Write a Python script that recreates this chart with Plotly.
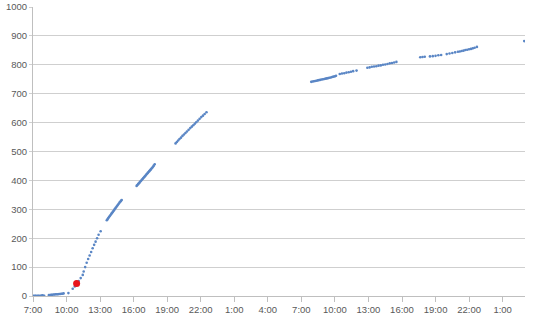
import plotly.graph_objects as go

times = [
    "2020-01-01 07:00", "2020-01-01 07:05", "2020-01-01 07:10", "2020-01-01 07:15", "2020-01-01 07:20",
    "2020-01-01 07:25", "2020-01-01 07:30", "2020-01-01 07:35", "2020-01-01 07:40", "2020-01-01 07:45",
    "2020-01-01 07:50", "2020-01-01 07:55", "2020-01-01 08:00",
    "2020-01-01 08:25", "2020-01-01 08:31", "2020-01-01 08:37", "2020-01-01 08:43", "2020-01-01 08:50",
    "2020-01-01 08:56", "2020-01-01 09:02", "2020-01-01 09:08", "2020-01-01 09:14", "2020-01-01 09:20",
    "2020-01-01 09:26", "2020-01-01 09:32", "2020-01-01 09:38", "2020-01-01 09:44",
    "2020-01-01 10:10", "2020-01-01 10:33", "2020-01-01 10:44",
    "2020-01-01 11:05", "2020-01-01 11:16", "2020-01-01 11:27", "2020-01-01 11:32", "2020-01-01 11:40",
    "2020-01-01 11:48", "2020-01-01 11:56", "2020-01-01 12:04", "2020-01-01 12:12", "2020-01-01 12:20",
    "2020-01-01 12:28", "2020-01-01 12:36", "2020-01-01 12:44", "2020-01-01 12:52", "2020-01-01 13:03",
    "2020-01-01 13:36", "2020-01-01 13:40", "2020-01-01 13:44", "2020-01-01 13:48", "2020-01-01 13:52",
    "2020-01-01 13:56", "2020-01-01 14:00", "2020-01-01 14:04", "2020-01-01 14:08", "2020-01-01 14:12",
    "2020-01-01 14:16", "2020-01-01 14:20", "2020-01-01 14:24", "2020-01-01 14:28", "2020-01-01 14:32",
    "2020-01-01 14:36", "2020-01-01 14:40", "2020-01-01 14:44", "2020-01-01 14:48", "2020-01-01 14:52",
    "2020-01-01 14:56",
    "2020-01-01 16:16", "2020-01-01 16:20", "2020-01-01 16:24", "2020-01-01 16:28", "2020-01-01 16:32",
    "2020-01-01 16:36", "2020-01-01 16:40", "2020-01-01 16:44", "2020-01-01 16:48", "2020-01-01 16:52",
    "2020-01-01 16:56", "2020-01-01 17:00", "2020-01-01 17:04", "2020-01-01 17:08", "2020-01-01 17:12",
    "2020-01-01 17:16", "2020-01-01 17:20", "2020-01-01 17:24", "2020-01-01 17:28", "2020-01-01 17:32",
    "2020-01-01 17:36", "2020-01-01 17:40", "2020-01-01 17:44", "2020-01-01 17:48", "2020-01-01 17:53",
    "2020-01-01 19:45", "2020-01-01 19:52", "2020-01-01 19:59", "2020-01-01 20:06", "2020-01-01 20:14",
    "2020-01-01 20:22", "2020-01-01 20:30", "2020-01-01 20:38", "2020-01-01 20:46", "2020-01-01 20:55",
    "2020-01-01 21:04", "2020-01-01 21:12", "2020-01-01 21:20", "2020-01-01 21:28", "2020-01-01 21:36",
    "2020-01-01 21:45", "2020-01-01 21:54", "2020-01-01 22:03", "2020-01-01 22:12", "2020-01-01 22:21",
    "2020-01-01 22:31",
    "2020-01-02 07:53", "2020-01-02 08:00", "2020-01-02 08:07", "2020-01-02 08:14", "2020-01-02 08:21",
    "2020-01-02 08:28", "2020-01-02 08:35", "2020-01-02 08:42", "2020-01-02 08:49", "2020-01-02 08:56",
    "2020-01-02 09:03", "2020-01-02 09:10", "2020-01-02 09:17", "2020-01-02 09:24", "2020-01-02 09:31",
    "2020-01-02 09:38", "2020-01-02 09:45", "2020-01-02 09:52", "2020-01-02 10:00", "2020-01-02 10:06",
    "2020-01-02 10:26", "2020-01-02 10:38", "2020-01-02 10:50", "2020-01-02 11:02", "2020-01-02 11:14",
    "2020-01-02 11:26", "2020-01-02 11:38", "2020-01-02 11:56",
    "2020-01-02 12:54", "2020-01-02 13:06", "2020-01-02 13:18", "2020-01-02 13:30", "2020-01-02 13:42",
    "2020-01-02 13:54", "2020-01-02 14:06", "2020-01-02 14:18", "2020-01-02 14:30", "2020-01-02 14:42",
    "2020-01-02 14:54", "2020-01-02 15:06", "2020-01-02 15:18", "2020-01-02 15:30",
    "2020-01-02 17:38", "2020-01-02 17:50", "2020-01-02 18:02", "2020-01-02 18:30", "2020-01-02 18:45",
    "2020-01-02 19:00", "2020-01-02 19:15", "2020-01-02 19:30",
    "2020-01-02 20:00", "2020-01-02 20:15", "2020-01-02 20:30", "2020-01-02 20:45", "2020-01-02 21:00",
    "2020-01-02 21:10", "2020-01-02 21:20", "2020-01-02 21:30", "2020-01-02 21:40", "2020-01-02 21:50",
    "2020-01-02 22:00", "2020-01-02 22:10", "2020-01-02 22:20", "2020-01-02 22:30", "2020-01-02 22:42",
    "2020-01-03 02:56",
]

values = [
    1, 0, 1, 1, 0, 1, 1, 0, 1, 1, 2, 1, 1,
    3, 3, 4, 4, 5, 5, 6, 6, 6, 7, 7, 8, 8, 9,
    10, 25, 33,
    52, 62, 73, 85, 100, 115, 128, 140, 152, 165, 177, 188, 200, 212, 224,
    262, 266, 270, 273, 277, 280, 284, 287, 291, 294, 298, 302, 305, 309, 312, 316, 319, 323, 326, 329, 332,
    381, 384, 387, 390, 393, 396, 399, 402, 405, 408, 411, 414, 417, 420, 423, 426, 429, 432, 435, 438,
    441, 444, 447, 451, 456,
    528, 533, 538, 543, 548, 554, 559, 564, 569, 575, 581, 586, 591, 596, 601, 607, 613, 619, 624, 630, 636,
    741, 742, 743, 744, 745, 746, 747, 748, 749, 750, 751, 752, 753, 754, 755, 756, 758, 759, 760, 762,
    768, 770, 771, 773, 774, 776, 778, 780,
    790, 791, 793, 794, 795, 797, 798, 800, 801, 803, 805, 806, 808, 810,
    826, 827, 828, 829, 830, 831, 833, 834,
    837, 839, 841, 843, 845, 846, 848, 849, 851, 852, 854, 855, 857, 859, 862,
    882,
]

red_time = ["2020-01-01 10:54"]
red_value = [43]

tick_vals = [
    "2020-01-01 07:00", "2020-01-01 10:00", "2020-01-01 13:00", "2020-01-01 16:00", "2020-01-01 19:00",
    "2020-01-01 22:00", "2020-01-02 01:00", "2020-01-02 04:00", "2020-01-02 07:00", "2020-01-02 10:00",
    "2020-01-02 13:00", "2020-01-02 16:00", "2020-01-02 19:00", "2020-01-02 22:00", "2020-01-03 01:00",
]
tick_text = ["7:00", "10:00", "13:00", "16:00", "19:00", "22:00", "1:00", "4:00", "7:00", "10:00",
             "13:00", "16:00", "19:00", "22:00", "1:00"]

fig = go.Figure()
fig.add_trace(go.Scatter(x=times, y=values, mode="markers",
                         marker=dict(color="#5A86C5", size=2.6), showlegend=False))
fig.add_trace(go.Scatter(x=red_time, y=red_value, mode="markers",
                         marker=dict(color="#E8141E", size=7), showlegend=False))

axis_font = dict(family="Liberation Sans", size=9.5, color="#595959")
fig.update_layout(
    width=540, height=318,
    margin=dict(l=33, r=15, t=7, b=22),
    paper_bgcolor="white", plot_bgcolor="white",
    font=axis_font,
    xaxis=dict(
        type="date", range=["2020-01-01 07:00", "2020-01-03 03:00"],
        tickvals=tick_vals, ticktext=tick_text,
        showgrid=False, showline=True, linecolor="#BFBFBF", linewidth=1,
        ticks="outside", ticklen=5, tickcolor="#BFBFBF",
        tickfont=axis_font, zeroline=False, automargin=False,
    ),
    yaxis=dict(
        range=[0, 1000], dtick=100, tick0=0,
        showgrid=True, gridcolor="#CFCFCF", gridwidth=1,
        showline=True, linecolor="#BFBFBF", linewidth=1,
        ticks="outside", ticklen=3, tickcolor="#CFCFCF",
        tickfont=axis_font, zeroline=False, automargin=False,
    ),
)

fig.write_html("out.html")
